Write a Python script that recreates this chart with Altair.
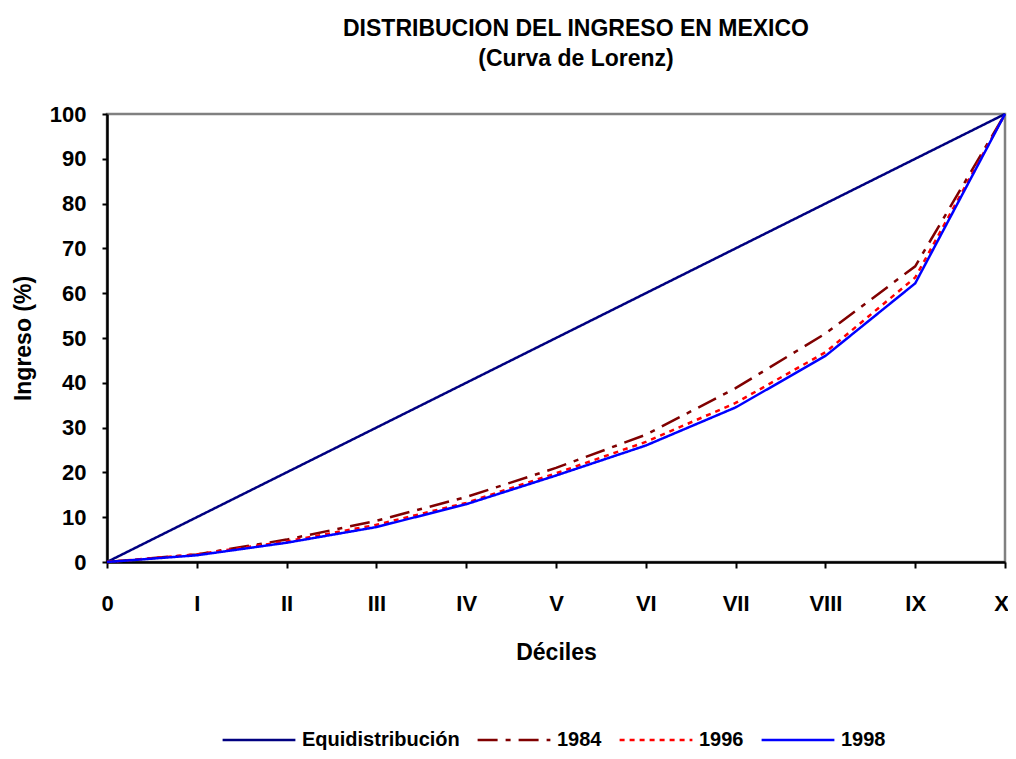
import altair as alt
import pandas as pd

# ---- data ----
decile_labels = ["0", "I", "II", "III", "IV", "V", "VI", "VII", "VIII", "IX", "X"]
deciles = list(range(11))
equi = [0, 10, 20, 30, 40, 50, 60, 70, 80, 90, 100]
y1984 = [0, 1.7, 5.0, 9.2, 14.5, 21.0, 28.4, 38.8, 51.0, 66.0, 100]
y1996 = [0, 1.7, 4.6, 8.3, 13.2, 19.8, 26.8, 35.5, 46.8, 63.5, 100]
y1998 = [0, 1.5, 4.3, 7.8, 12.9, 19.3, 26.0, 34.5, 46.0, 62.2, 100]
series_names = ["Equidistribución", "1984", "1996", "1998"]
y_ticks = [0, 10, 20, 30, 40, 50, 60, 70, 80, 90, 100]

# ---- styles ----
colors = ["#000080", "#800000", "#FF0000", "#0000FF"]
dashes = [[1, 0], [20, 8, 5, 8], [5, 5], [1, 0]]

rows = []
for name, vals in zip(series_names, [equi, y1984, y1996, y1998]):
    for d, v in zip(deciles, vals):
        rows.append({"serie": name, "decil": d, "ingreso": v})
df = pd.DataFrame(rows)

label_expr = "[" + ",".join("'" + s + "'" for s in decile_labels) + "][datum.value]"
FONT = "Liberation Sans"

legend = alt.Legend(
    title=None, orient="none", direction="horizontal", legendX=114, legendY=588,
    symbolType="stroke", symbolSize=5300, symbolStrokeWidth=2.5,
    labelFont=FONT, labelFontSize=20, labelFontWeight="bold", labelColor="black",
    labelOffset=5, columnPadding=12, labelLimit=300,
)

chart = alt.Chart(df).mark_line(strokeWidth=2.5).encode(
    x=alt.X("decil:Q",
            scale=alt.Scale(domain=[0, 10], nice=False),
            axis=alt.Axis(values=deciles, labelExpr=label_expr, title="Déciles",
                          tickSize=6, labelPadding=25, titlePadding=27,
                          labelOffset={"condition": {"test": "datum.value == 10", "value": -4}, "value": 0})),
    y=alt.Y("ingreso:Q",
            scale=alt.Scale(domain=[0, 100], nice=False),
            axis=alt.Axis(values=y_ticks, title="Ingreso (%)",
                          tickSize=5, labelPadding=16, titlePadding=14)),
    color=alt.Color("serie:N", scale=alt.Scale(domain=series_names, range=colors), legend=legend),
    strokeDash=alt.StrokeDash("serie:N", scale=alt.Scale(domain=series_names, range=dashes), legend=legend),
    order="decil:Q",
).properties(
    width=898, height=448,
    title=alt.TitleParams(
        ["DISTRIBUCION DEL INGRESO EN MEXICO", "(Curva de Lorenz)"],
        font=FONT, fontSize=23, fontWeight="bold", color="black",
        anchor="middle", lineHeight=30, offset=32, dx=20,
    ),
    autosize=alt.AutoSizeParams(type="none"),
    padding={"left": 99, "top": 106, "right": 3, "bottom": 188},
).configure(
    background="white",
).configure_view(
    stroke="#808080", strokeWidth=2.5,
).configure_axis(
    labelFont=FONT, labelFontSize=22, labelFontWeight="bold", labelColor="black",
    titleFont=FONT, titleFontSize=23, titleFontWeight="bold", titleColor="black",
    domainColor="black", domainWidth=2.5, tickColor="black", tickWidth=2,
    grid=False, labelFlush=False, labelOverlap=False,
)

chart.save("out.html", embed_options={"renderer": "svg", "actions": False})
